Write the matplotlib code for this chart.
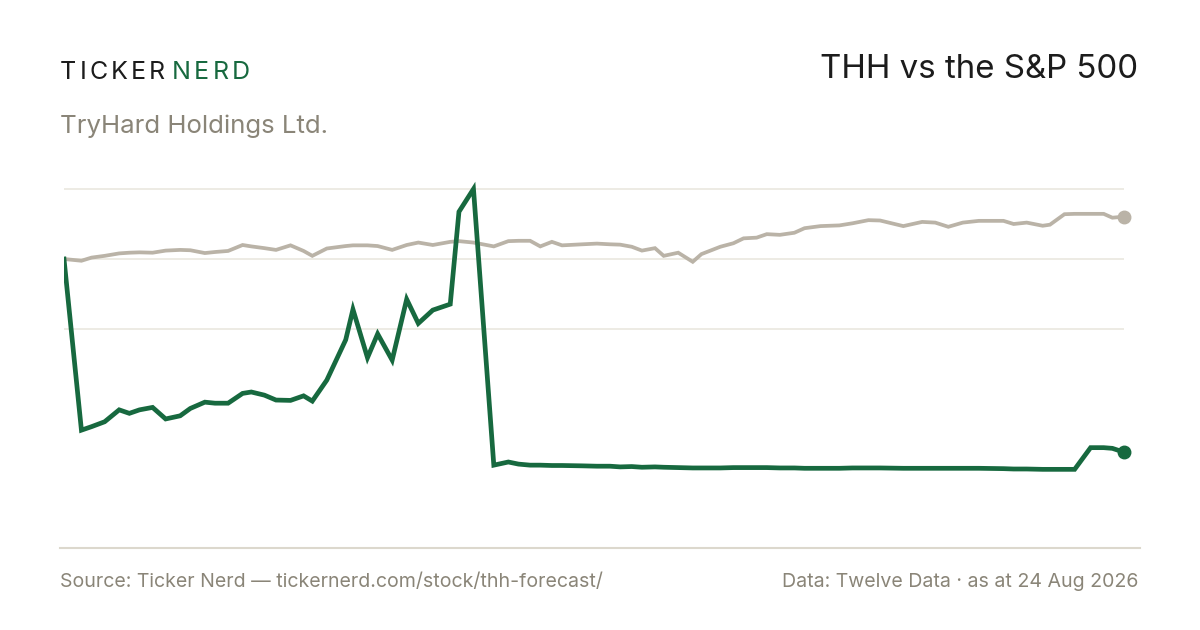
import matplotlib
matplotlib.use("Agg")
import matplotlib.pyplot as plt
from matplotlib.lines import Line2D

# ---- data (days since start, % change from start) ----
days = [0, 12, 19, 28, 38, 45, 52, 61, 70, 80, 87, 97, 104, 113, 123, 129, 138, 146, 156, 165,
        171, 181, 194, 199, 209, 216, 226, 236, 244, 254, 266, 272, 282, 296, 306, 313, 321, 328,
        336, 343, 357, 367, 376, 383, 391, 398, 407, 413, 423, 433, 439, 452, 461, 468, 477, 484,
        493, 503, 510, 521, 534, 543, 554, 562, 578, 591, 600, 609, 619, 630, 647, 654, 663, 674,
        679, 689, 696, 707, 716, 722, 730]

sp500 = [0.0, -0.5, 0.4, 0.9, 1.6, 1.8, 1.9, 1.8, 2.4, 2.6, 2.5, 1.7, 2.0, 2.3, 4.0, 3.6, 3.1, 2.6, 3.9, 2.3,
         0.9, 3.0, 3.7, 3.9, 3.9, 3.7, 2.6, 4.0, 4.7, 4.0, 4.9, 5.1, 4.7, 3.6, 5.1, 5.2, 5.2, 3.6,
         4.9, 3.9, 4.2, 4.4, 4.2, 4.1, 3.5, 2.4, 3.1, 0.9, 1.8, -0.8, 1.4, 3.5, 4.5, 5.9, 6.1, 7.1,
         6.9, 7.5, 8.8, 9.4, 9.6, 10.2, 11.1, 11.0, 9.4, 10.6, 10.4, 9.2, 10.4, 10.9, 10.9, 10.0, 10.4, 9.5,
         9.8, 12.8, 12.9, 12.9, 12.9, 11.8, 12.1]

thh = [0.0, -48.9, -47.9, -46.5, -43.1, -44.1, -43.1, -42.4, -45.7, -44.8, -42.7, -40.9, -41.2, -41.2, -38.4, -38.0, -38.9, -40.3, -40.4, -39.1,
       -40.6, -34.6, -23.1, -14.4, -28.2, -21.4, -28.9, -11.5, -18.4, -14.6, -12.9, 13.5, 20.0, -58.9, -58.0, -58.6, -58.9, -58.9,
       -59.0, -59.0, -59.1, -59.2, -59.2, -59.4, -59.3, -59.5, -59.4, -59.5, -59.6, -59.7, -59.7, -59.7, -59.6, -59.6, -59.6, -59.6,
       -59.7, -59.7, -59.8, -59.8, -59.8, -59.7, -59.7, -59.7, -59.8, -59.8, -59.8, -59.8, -59.8, -59.8, -59.9, -60.0, -60.0, -60.1,
       -60.1, -60.1, -60.1, -53.9, -53.9, -54.1, -55.2]

grid_levels = [-20, 0, 20]

title = "THH vs the S&P 500"
brand_a = "TICKER"
brand_b = "NERD"
company = "TryHard Holdings Ltd."
source_txt = "Source: Ticker Nerd \u2014 tickernerd.com/stock/thh-forecast/"
data_txt = "Data: Twelve Data \u00b7 as at 24 Aug 2026"

# ---- style ----
GREEN = "#17693f"
GRAY_LINE = "#bab3a7"
GRID = "#ece9e2"
BASE = "#dcd8cd"
MUTED = "#8a8578"
INK = "#1c1c1c"
FONT = "Inter"

W, H = 1200, 630
fig = plt.figure(figsize=(W / 100, H / 100), dpi=100)
fig.patch.set_facecolor("white")

def fx(px):
    return px / W

def fy(py):
    return 1 - py / H

# axes: x 64..1124, y 180..548 (pixels)
ax = fig.add_axes([fx(64), fy(548), fx(1124) - fx(64), (548 - 180) / H])
ax.set_xlim(0, 730)
ax.set_ylim(-(548 - 259) / 3.5, (259 - 180) / 3.5)
ax.axis("off")

for g in grid_levels:
    ax.axhline(g, color=GRID, lw=1.3, zorder=1)

ax.plot(days, sp500, color=GRAY_LINE, lw=2.7, solid_joinstyle="miter", zorder=2)
ax.plot(days[-1:], sp500[-1:], "o", color=GRAY_LINE, ms=9, clip_on=False, zorder=3)
ax.plot(days, thh, color=GREEN, lw=3.4, solid_joinstyle="miter", zorder=4)
ax.plot(days[-1:], thh[-1:], "o", color=GREEN, ms=9, clip_on=False, zorder=5)

# baseline rule
fig.add_artist(Line2D([fx(60), fx(1140)], [fy(548), fy(548)], color=BASE, lw=1.5))

# ---- texts ----
renderer = fig.canvas.get_renderer()

def tracked(x_px, y_px, s, size, color, track_px, weight="normal"):
    x = x_px
    for ch in s:
        t = fig.text(fx(x), fy(y_px), ch, fontsize=size, color=color, family=FONT,
                     weight=weight, ha="left", va="baseline")
        w = t.get_window_extent(renderer).width
        x += w + track_px
    return x

end = tracked(60, 79, brand_a, 18.0, INK, 3.1)
tracked(end + 4, 79, brand_b, 18.0, GREEN, 3.1)

fig.text(fx(1138), fy(78), title, fontsize=23.8, color=INK, family=FONT,
         ha="right", va="baseline")
fig.text(fx(60), fy(133), company, fontsize=18.6, color=MUTED, family=FONT,
         ha="left", va="baseline")
fig.text(fx(60), fy(587), source_txt, fontsize=14.1, color=MUTED, family=FONT,
         ha="left", va="baseline")
fig.text(fx(1138), fy(587), data_txt, fontsize=14.1, color=MUTED, family=FONT,
         ha="right", va="baseline")

fig.savefig("out.png", dpi=100, facecolor="white")
